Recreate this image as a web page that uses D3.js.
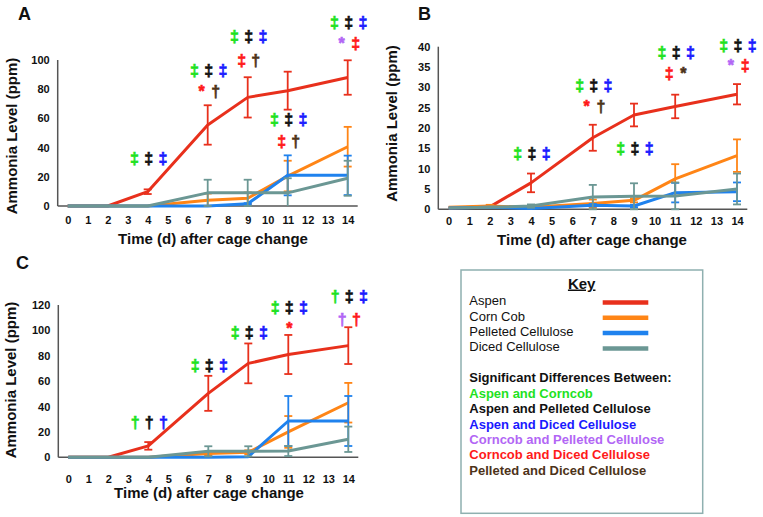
<!DOCTYPE html>
<html><head><meta charset="utf-8">
<script src="https://cdn.jsdelivr.net/npm/d3@7"></script>
<style>body{margin:0;background:#fff} svg{display:block;font-family:"Liberation Sans",Arial,sans-serif}</style>
</head><body><svg id="c" width="763" height="517"></svg>
<script>
// ---------- DATA ----------
const days = [0, 2, 4, 7, 9, 11, 14];
const dayTicks = [0, 1, 2, 3, 4, 5, 6, 7, 8, 9, 10, 11, 12, 13, 14];
const seriesNames = ["Aspen", "Corn Cob", "Pelleted Cellulose", "Diced Cellulose"];

// Panel A
const yTicksA = [0, 20, 40, 60, 80, 100];
const aAspen = [0, 0, 9.8, 55.5, 74.4, 79, 88];
const aAspenErr = [0, 0, 1.6, 13.5, 13.8, 13, 11.8];
const aCorn = [0, 0, 0, 4, 5.3, 20.5, 40.6];
const aCornErr = [0, 0, 0, 4.5, 4, 10.5, 13.6];
const aPellet = [0, 0, 0, 0, 1.5, 21, 21];
const aPelletErr = [0, 0, 0, 0, 0.5, 13.7, 13.5];
const aDiced = [0, 0, 0, 9, 9, 9, 19];
const aDicedErr = [0, 0, 0, 9, 9, 10, 12];

// Panel B
const yTicksB = [0, 5, 10, 15, 20, 25, 30, 35, 40];
const bAspen = [0.3, 0.6, 6.5, 17.6, 23.2, 25.3, 28.3];
const bAspenErr = [0, 0.3, 2.3, 3.2, 2.8, 2.9, 2.5];
const bCorn = [0.5, 0.8, 0.5, 1.4, 2.2, 7.5, 13.2];
const bCornErr = [0, 0.3, 0, 1, 0.5, 3.6, 4];
const bPellet = [0.3, 0.5, 0.2, 1.0, 0.8, 4.1, 4.3];
const bPelletErr = [0, 0, 0, 0.3, 0.3, 2.4, 2.3];
const bDiced = [0.3, 0.5, 0.8, 3, 3.2, 3.3, 5];
const bDicedErr = [0, 0, 0.4, 3, 3.2, 3.3, 3.8];

// Panel C
const yTicksC = [0, 20, 40, 60, 80, 100, 120];
const cAspen = [0, 0, 9, 50.4, 74, 81, 88];
const cAspenErr = [0, 0, 3, 13.8, 15.7, 15.4, 14.5];
const cCorn = [0, 0, 0, 3, 4, 20, 43];
const cCornErr = [0, 0, 0, 1.5, 1.5, 12.5, 15.6];
const cPellet = [0, 0, 0, 0, 0.5, 28.6, 28.6];
const cPelletErr = [0, 0, 0, 0, 0, 19.7, 19.7];
const cDiced = [0, 0, 0, 4.7, 4.7, 5, 14.2];
const cDicedErr = [0, 0, 0, 4, 4, 4, 10];

// Significance annotations: day, level (ppm), symbols, comparison codes
// g=Aspen/Corncob k=Aspen/Pelleted b=Aspen/Diced p=Corncob/Pelleted r=Corncob/Diced n=Pelleted/Diced
const annA = [
  [4, 32, "‡‡‡", "gkb"],
  [7, 92.5, "‡‡‡", "gkb"], [7, 78, "*†", "rn"],
  [9, 115.5, "‡‡‡", "gkb"], [9, 99.3, "‡†", "rn"],
  [11, 59, "‡‡‡", "gkb"], [11, 44, "‡†", "rn"],
  [14, 125.6, "‡‡‡", "gkb"], [14, 110.7, "*‡", "pr"]
];
const annB = [
  [4, 13.6, "‡‡‡", "gkb"],
  [7, 30.3, "‡‡‡", "gkb"], [7, 25.2, "*†", "rn"],
  [9, 14.8, "‡‡‡", "gkb"],
  [11, 38.4, "‡‡‡", "gkb"], [11, 33.3, "‡*", "rn"],
  [14, 40.2, "‡‡‡", "gkb"], [14, 35.2, "*‡", "pr"]
];
const annC = [
  [4, 26.8, "†††", "gkb"],
  [7, 71.9, "‡‡‡", "gkb"],
  [9, 98.2, "‡‡‡", "gkb"],
  [11, 117.3, "‡‡‡", "gkb"], [11, 101, "*", "r"],
  [14, 126.5, "†‡‡", "gkb"], [14, 108, "††", "pr"]
];

const keyTitle = "Key";
const sigTitle = "Significant Differences Between:";
const sigCodes = ["g", "k", "b", "p", "r", "n"];
const sigLabels = ["Aspen and Corncob", "Aspen and Pelleted Cellulose", "Aspen and Diced Cellulose",
  "Corncob and Pelleted Cellulose", "Corncob and Diced Cellulose", "Pelleted and Diced Cellulose"];
const yTitle = "Ammonia Level (ppm)";
const xTitle = "Time (d) after cage change";

// ---------- STYLE ----------
const seriesColors = ["#e8301c", "#ff8516", "#1f82ee", "#6b9794"];
const sigColors = {g: "#1ee21e", k: "#111111", b: "#1a1aff", p: "#b266f5", r: "#ff1a1a", n: "#4d3319"};

const svg = d3.select("#c");

const panels = [
  {letter: "A", lx: 18, ly: 19.5, left: 57.7, right: 357.7, bottom: 206, top: 60, yMax: 100, yTicks: yTicksA,
   xPad: 10.5, xtX: 213, xtY: 238.5, ytX: 12, ytY: 136,
   series: [[aAspen, aAspenErr], [aCorn, aCornErr], [aPellet, aPelletErr], [aDiced, aDicedErr]], ann: annA},
  {letter: "B", lx: 418, ly: 19.5, left: 438.3, right: 747.3, bottom: 209.3, top: 46.7, yMax: 40, yTicks: yTicksB,
   xPad: 8, xtX: 592, xtY: 240, ytX: 392, ytY: 123.5,
   series: [[bAspen, bAspenErr], [bCorn, bCornErr], [bPellet, bPelletErr], [bDiced, bDicedErr]], ann: annB},
  {letter: "C", lx: 16, ly: 269, left: 58.3, right: 358.3, bottom: 457.3, top: 305, yMax: 120, yTicks: yTicksC,
   xPad: 17.5, xtX: 209, xtY: 493, ytX: 11, ytY: 380,
   series: [[cAspen, cAspenErr], [cCorn, cCornErr], [cPellet, cPelletErr], [cDiced, cDicedErr]], ann: annC}
];

panels.forEach(p => {
  const g = svg.append("g");
  const x = d3.scaleLinear().domain([-0.5, 14.5]).range([p.left, p.right]);
  const y = d3.scaleLinear().domain([0, p.yMax]).range([p.bottom, p.top]);

  g.append("text").attr("x", p.lx).attr("y", p.ly).text(p.letter)
    .attr("font-size", 18).attr("font-weight", "bold").attr("fill", "#111");

  // axes labels
  const ya = g.append("g").attr("transform", `translate(${p.left},0)`)
    .call(d3.axisLeft(y).tickValues(p.yTicks).tickSize(0).tickPadding(8));
  ya.select(".domain").remove();
  ya.selectAll("text").attr("font-size", 11).attr("font-weight", "bold").attr("fill", "#111")
    .attr("font-family", "Liberation Sans, Arial, sans-serif");
  const xa = g.append("g").attr("transform", `translate(0,${p.bottom})`)
    .call(d3.axisBottom(x).tickValues(dayTicks).tickSize(0).tickPadding(p.xPad));
  xa.select(".domain").remove();
  xa.selectAll("text").attr("font-size", 11).attr("font-weight", "bold").attr("fill", "#111")
    .attr("font-family", "Liberation Sans, Arial, sans-serif");

  // axis lines
  g.append("line").attr("x1", p.left).attr("x2", p.left).attr("y1", y(0)).attr("y2", y(p.yMax))
    .attr("stroke", "#555").attr("stroke-width", 1.5);
  g.append("line").attr("x1", p.left).attr("x2", p.right).attr("y1", y(0)).attr("y2", y(0))
    .attr("stroke", "#555").attr("stroke-width", 1.5);

  // titles
  g.append("text").attr("x", p.xtX).attr("y", p.xtY).attr("dy", "0.35em").attr("text-anchor", "middle")
    .attr("font-size", 15).attr("font-weight", "bold").attr("fill", "#111").text(xTitle);
  g.append("text").attr("transform", `translate(${p.ytX},${p.ytY}) rotate(-90)`).attr("dy", "0.35em")
    .attr("text-anchor", "middle").attr("font-size", 15).attr("font-weight", "bold").attr("fill", "#111").text(yTitle);

  // series
  const line = d3.line().x(d => x(d[0])).y(d => y(d[1]));
  p.series.forEach((s, si) => {
    const [vals, errs] = s;
    const col = seriesColors[si];
    const eg = g.append("g").attr("stroke", col).attr("stroke-width", 1.8);
    days.forEach((d, i) => {
      if (errs[i] <= 0) return;
      const hi = Math.min(p.yMax, vals[i] + errs[i]);
      const lo = Math.max(0, vals[i] - errs[i]);
      eg.append("line").attr("x1", x(d)).attr("x2", x(d)).attr("y1", y(hi)).attr("y2", y(lo));
      eg.append("line").attr("x1", x(d) - 4).attr("x2", x(d) + 4).attr("y1", y(hi)).attr("y2", y(hi));
      if (vals[i] - errs[i] >= 0)
        eg.append("line").attr("x1", x(d) - 4).attr("x2", x(d) + 4).attr("y1", y(lo)).attr("y2", y(lo));
    });
    g.append("path").datum(days.map((d, i) => [d, vals[i]])).attr("d", line)
      .attr("fill", "none").attr("stroke", col).attr("stroke-width", 3).attr("stroke-linejoin", "round");
  });

  // annotations
  p.ann.forEach(a => {
    const [day, lvl, syms, codes] = a;
    const chars = Array.from(syms);
    const n = chars.length;
    chars.forEach((ch, k) => {
      const off = (k - (n - 1) / 2) * 14.2 + 1;
      const c = sigColors[codes[k]];
      g.append("text").attr("x", x(day) + off).attr("y", y(lvl) + 5)
        .attr("text-anchor", "middle").attr("font-size", 16).attr("font-weight", "bold")
        .attr("fill", c).attr("stroke", c).attr("stroke-width", 0.6).text(ch);
    });
  });
});

// ---------- KEY ----------
const kg = svg.append("g");
kg.append("rect").attr("x", 461).attr("y", 270).attr("width", 241.7).attr("height", 243.3)
  .attr("fill", "#fff").attr("stroke", "#8fb0b0").attr("stroke-width", 1.5);
kg.append("text").attr("x", 581.7).attr("y", 288.5).attr("text-anchor", "middle")
  .attr("font-size", 15).attr("font-weight", "bold").attr("fill", "#111")
  .attr("text-decoration", "underline").text(keyTitle);
seriesNames.forEach((nm, i) => {
  const cy = 300.7 + i * 15.35;
  kg.append("text").attr("x", 469.3).attr("y", cy).attr("dy", "0.35em").attr("font-size", 13)
    .attr("fill", "#111").text(nm);
  kg.append("line").attr("x1", 602.7).attr("x2", 648.3).attr("y1", cy + 1.7).attr("y2", cy + 1.7)
    .attr("stroke", seriesColors[i]).attr("stroke-width", 4.5);
});
kg.append("text").attr("x", 469.3).attr("y", 377.7).attr("dy", "0.35em").attr("font-size", 13)
  .attr("font-weight", "bold").attr("fill", "#111").text(sigTitle);
sigLabels.forEach((lb, i) => {
  kg.append("text").attr("x", 469.3).attr("y", 393.3 + i * 15.4).attr("dy", "0.35em").attr("font-size", 13)
    .attr("font-weight", "bold").attr("fill", sigColors[sigCodes[i]]).text(lb);
});
</script></body></html>
